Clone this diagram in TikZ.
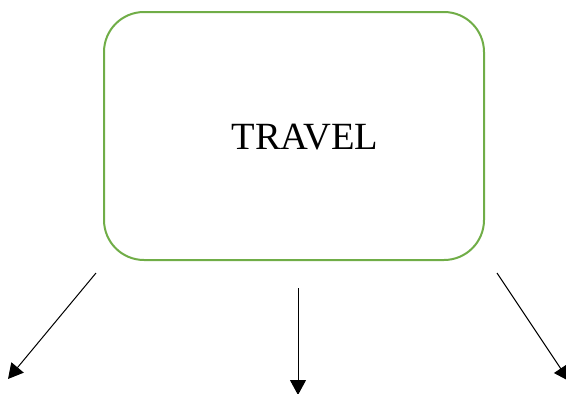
\documentclass[tikz,border=0pt]{standalone}
\usepackage{fontspec}
\setmainfont{Liberation Serif}
\usetikzlibrary{arrows.meta}

\definecolor{boxgreen}{RGB}{112,173,71}

\begin{document}
\begin{tikzpicture}[x=1pt, y=-1pt,
    branch/.style={line width=1pt, -{Triangle[length=15pt, width=16pt]}}]
    % Frame
    \useasboundingbox (0, 0) rectangle (566, 394);

    % Box
    \draw[boxgreen, line width=2pt, rounded corners=40pt] (104, 12) rectangle (484, 260);
    \node[font=\fontsize{38.5}{42}\selectfont, inner sep=0pt] (travel) at (305, 137) {TRAVEL};

    % Arrow ends
    \coordinate (leftstart) at (96, 273);
    \coordinate (leftend) at (8, 379);
    \coordinate (midstart) at (298, 288);
    \coordinate (midend) at (298, 395);
    \coordinate (rightstart) at (497, 273);
    \coordinate (rightend) at (569, 381);

    % Arrows
    \draw[branch] (leftstart) -- (leftend);
    \draw[branch] (midstart) -- (midend);
    \draw[branch] (rightstart) -- (rightend);
\end{tikzpicture}
\end{document}
